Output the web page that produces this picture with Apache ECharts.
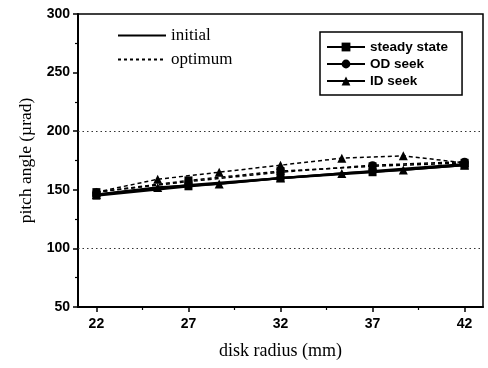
<!DOCTYPE html>
<html>
<head>
<meta charset="utf-8">
<script src="https://cdn.jsdelivr.net/npm/echarts@6/dist/echarts.min.js"></script>
<style>
  html, body { margin: 0; padding: 0; background: #fff; }
  #chart { width: 488px; height: 368px; }
</style>
</head>
<body>
<div id="chart"></div>
<script>
// radius positions (mm)
const xsFive = [22, 27, 32, 37, 42];
const xsSeven = [22, 25.33, 28.67, 32, 35.33, 38.67, 42];

// pitch angle (urad), initial = solid, optimum = dashed
const steadyInitial = [145, 153, 160, 165, 171];
const steadyOptimum = [148, 158, 166, 170, 173];
const odInitial = [146, 154, 160, 166, 172];
const odOptimum = [148, 157, 165, 171, 174];
const idInitial = [146, 152, 155, 160, 164, 167, 171];
const idOptimum = [148, 159, 165, 171, 177, 179, 173];

const xTicks = [22, 27, 32, 37, 42];
const xMinorTicks = [24.5, 29.5, 34.5, 39.5];
const refLines = [100, 200];

const pair = (xs, ys) => xs.map((x, i) => [x, ys[i]]);

const chart = echarts.init(document.getElementById("chart"), null, { renderer: "canvas" });

const serif = "Liberation Serif";
const sans = "Liberation Sans";

function makeSeries(name, xs, ys, symbol, dashed) {
  return {
    name: name,
    type: "line",
    data: pair(xs, ys),
    symbol: symbol,
    symbolSize: symbol === "triangle" ? 9 : 8,
    itemStyle: { color: "#000" },
    lineStyle: { color: "#000", width: dashed ? 1.5 : 2.2, type: dashed ? [4, 3] : "solid" },
    animation: false,
    z: dashed ? 3 : 4
  };
}

const series = [
  makeSeries("steady state", xsFive, steadyInitial, "rect", false),
  makeSeries("OD seek", xsFive, odInitial, "circle", false),
  makeSeries("ID seek", xsSeven, idInitial, "triangle", false),
  makeSeries("steady state", xsFive, steadyOptimum, "rect", true),
  makeSeries("OD seek", xsFive, odOptimum, "circle", true),
  makeSeries("ID seek", xsSeven, idOptimum, "triangle", true),
  // legend-only entries for the line style key
  { name: "initial", type: "line", data: [], symbol: "none",
    lineStyle: { color: "#000", width: 1.5 }, itemStyle: { color: "#000" } },
  { name: "optimum", type: "line", data: [], symbol: "none",
    lineStyle: { color: "#000", width: 1.2, type: [3, 3] }, itemStyle: { color: "#000" } }
];

// dotted reference lines at 100 and 200
series[0].markLine = {
  silent: true,
  symbol: "none",
  label: { show: false },
  lineStyle: { color: "#333", width: 1, type: [1.5, 3] },
  data: refLines.map(v => ({ yAxis: v }))
};

const option = {
  animation: false,
  backgroundColor: "#fff",
  grid: {
    left: 78, top: 14, right: 5, bottom: 61,
    show: true, borderColor: "#000", borderWidth: 1.5
  },
  legend: [
    {
      data: ["initial", "optimum"],
      orient: "vertical",
      left: 112, top: 22,
      itemWidth: 48, itemHeight: 12, itemGap: 7,
      itemStyle: { opacity: 0 },
      selectedMode: false,
      textStyle: { fontFamily: serif, fontSize: 17, color: "#000" }
    },
    {
      data: ["steady state", "OD seek", "ID seek"],
      orient: "vertical",
      left: 320, top: 32,
      width: 147,
      itemWidth: 38, itemHeight: 11, itemGap: 3,
      padding: [8, 14, 7, 6],
      borderColor: "#000", borderWidth: 1.5,
      selectedMode: false,
      textStyle: { fontFamily: sans, fontWeight: "bold", fontSize: 13.5, color: "#000" }
    }
  ],
  xAxis: [
    {
      type: "value",
      min: 21, max: 43,
      name: "disk radius (mm)",
      nameLocation: "middle",
      nameGap: 35,
      nameTextStyle: { fontFamily: serif, fontSize: 18, color: "#000" },
      axisLine: { lineStyle: { color: "#000", width: 2 } },
      axisTick: { show: true, customValues: xTicks, length: 5, lineStyle: { color: "#000", width: 1.5 } },
      axisLabel: { customValues: xTicks, margin: 10, fontFamily: sans, fontWeight: "bold", fontSize: 14, color: "#000" },
      splitLine: { show: false }
    },
    {
      type: "value",
      min: 21, max: 43,
      position: "bottom",
      axisLine: { show: false },
      axisTick: { show: true, customValues: xMinorTicks, length: 3, lineStyle: { color: "#000", width: 1.2 } },
      axisLabel: { show: false },
      splitLine: { show: false }
    }
  ],
  yAxis: {
    type: "value",
    min: 50, max: 300, interval: 50,
    name: "pitch angle (\u00b5rad)",
    nameLocation: "middle",
    nameGap: 43,
    nameTextStyle: { fontFamily: serif, fontSize: 17.5, color: "#000" },
    axisLine: { show: true, lineStyle: { color: "#000", width: 2 } },
    axisTick: { show: true, length: 5, lineStyle: { color: "#000", width: 1.5 } },
    minorTick: { show: true, splitNumber: 2, length: 3, lineStyle: { color: "#000", width: 1.2 } },
    axisLabel: { margin: 8, fontFamily: sans, fontWeight: "bold", fontSize: 14, color: "#000" },
    splitLine: { show: false }
  },
  series: series
};

chart.setOption(option);
</script>
</body>
</html>
